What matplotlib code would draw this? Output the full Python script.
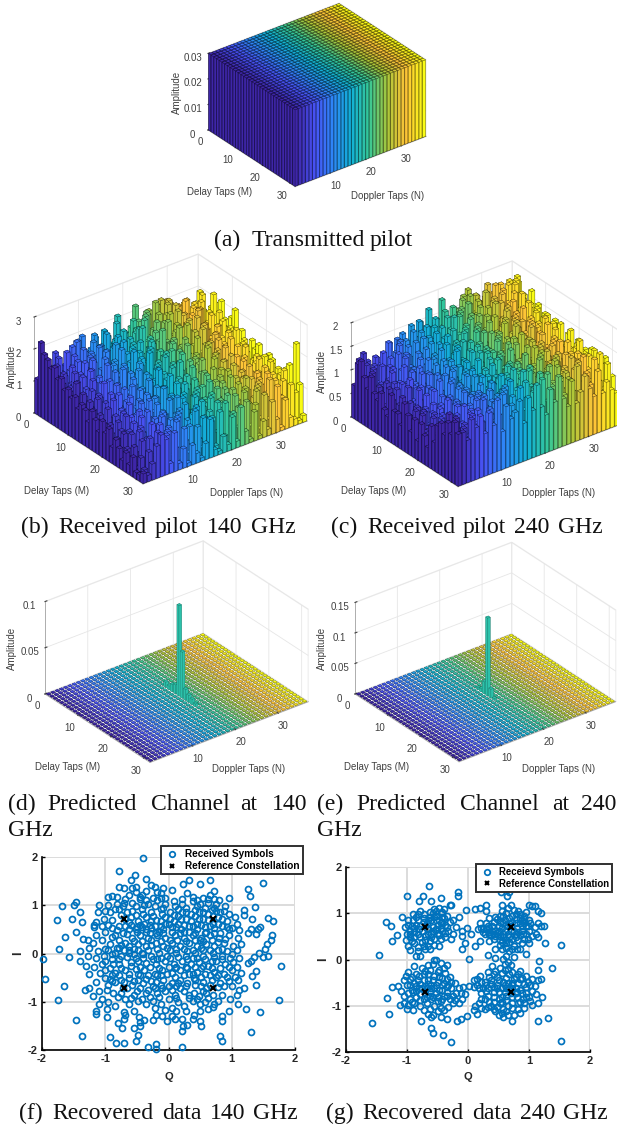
import numpy as np
import matplotlib
matplotlib.use('Agg')
import matplotlib.pyplot as plt
from matplotlib.colors import LinearSegmentedColormap
from mpl_toolkits.mplot3d import proj3d

W, H = 617, 1127
N_M, N_N = 32, 37
plt.rcParams['axes.unicode_minus'] = False

# parula anchors
parula = LinearSegmentedColormap.from_list('parula', [
    (0.2422, 0.1504, 0.6603), (0.2810, 0.3228, 0.9579), (0.1786, 0.5289, 0.9682),
    (0.0689, 0.6948, 0.8394), (0.2161, 0.7843, 0.5923), (0.6720, 0.7793, 0.2227),
    (0.9970, 0.7659, 0.2199), (0.9769, 0.9839, 0.0805)])

# transmitted pilot, same level everywhere
pilot_level = 0.03

# received pilot 140 GHz, tenths of amplitude, rows are delay, columns doppler
rx_140 = [
 [11,16,7,13,17,8,12,6,15,18, 19,9,14,17,7,18,10,13,21,8, 12,16,22,9,12,19,7,16,11,20, 17,8,13,17,6,13,9],
 [23,8,12,6,16,11,5,18,19,7, 15,10,19,6,13,17,8,20,11,16, 7,14,18,10,19,6,21,22,12,20, 9,18,7,16,15,8,17],
 [20,15,6,10,5,18,13,7,4,16, 8,18,5,14,19,9,16,6,17,12, 20,8,13,21,10,23,15,7,22,11, 19,6,20,12,18,21,14],
 [19,5,16,8,3,13,17,9,18,6, 15,4,17,10,7,15,5,19,12,6, 18,9,21,14,7,20,13,22,8,17, 5,21,11,19,7,16,10],
 [17,14,4,13,9,2,16,5,12,17, 7,18,10,3,16,19,8,14,5,18, 11,21,6,17,9,13,20,7,22,12, 18,8,19,6,22,13,17],
 [18,6,15,3,16,8,4,14,17,5, 19,7,13,11,4,17,9,18,6,20, 8,15,10,20,16,6,21,12,5,19, 9,18,15,21,7,14,19],
 [15,13,3,12,2,14,17,6,16,9, 4,18,11,19,7,15,3,17,10,21, 14,6,18,9,20,7,15,22,11,17, 14,6,20,10,18,23,8],
 [16,4,12,16,7,3,13,18,5,14, 19,6,15,8,20,10,17,5,14,4, 18,9,16,6,21,12,19,8,17,15, 7,21,13,16,5,17,21],
 [13,12,2,9,15,6,16,3,11,18, 8,15,4,12,17,7,5,19,10,16, 6,13,20,16,8,18,12,5,20,11, 22,7,15,19,13,4,16],
 [14,5,15,3,12,17,7,14,4,16, 6,13,20,9,15,3,17,12,5,18, 15,11,4,16,13,20,8,18,14,21, 6,16,13,9,20,15,7],
 [12,16,3,8,2,14,5,11,18,6, 13,4,15,10,19,12,6,14,20,8, 16,11,14,18,7,15,21,9,16,6, 19,13,6,17,18,8,18],
 [13,2,12,7,16,3,14,8,3,16, 10,17,5,13,4,17,9,19,12,6, 15,8,18,11,16,10,14,19,7,20, 13,9,18,14,5,16,21],
 [10,14,3,14,5,11,2,15,12,4, 17,9,13,6,16,10,19,3,15,12, 7,17,5,14,19,8,16,11,20,13, 6,17,12,7,16,14,13],
 [12,3,10,2,12,16,5,3,14,7, 11,16,4,18,6,13,9,15,8,18, 5,12,17,8,15,4,19,14,7,16, 18,8,14,17,11,4,16],
 [11,13,2,14,5,3,12,15,4,11, 3,13,17,6,13,4,15,6,18,12, 14,5,12,19,8,15,9,17,12,5, 17,14,6,12,18,8,12],
 [8,11,14,3,10,14,2,9,14,3, 16,7,12,16,4,13,7,14,4,16, 10,18,9,6,15,12,4,18,9,15, 10,6,17,13,9,15,10],
 [12,2,8,13,3,8,14,3,10,15, 5,12,3,14,10,17,4,11,16,6, 14,4,16,9,14,6,18,10,15,4, 16,13,9,6,15,6,15],
 [10,11,1,9,14,2,10,12,3,9, 14,6,16,7,3,12,14,6,11,18, 4,11,14,7,16,10,6,16,7,13, 10,4,16,11,13,9,13],
 [7,9,13,2,4,11,3,14,6,12, 3,12,8,14,5,8,16,3,14,7, 11,16,4,13,7,11,16,4,14,10, 7,14,8,16,5,11,15],
 [11,1,6,11,8,2,13,7,2,10, 14,3,12,6,14,9,3,12,8,15, 5,12,9,14,3,14,8,12,5,16, 12,7,14,5,12,8,11],
 [8,10,2,5,12,7,2,10,13,3, 6,13,6,15,3,9,15,5,12,2, 14,8,5,12,9,4,14,8,12,9, 5,14,11,3,14,11,8],
 [10,3,11,1,5,11,8,2,8,14, 10,3,9,5,13,6,9,15,4,10, 2,12,15,4,12,13,5,9,15,4, 12,9,5,13,8,14,14],
 [5,7,9,13,2,4,13,3,10,2, 13,6,2,13,9,3,13,6,2,13, 9,4,13,9,2,9,15,5,9,13, 5,12,8,15,4,9,13],
 [8,1,3,9,11,2,7,13,2,6, 3,10,14,2,7,13,5,2,13,6, 10,15,2,9,13,5,9,13,4,12, 15,5,12,5,9,13,6],
 [6,10,1,5,2,13,5,1,11,4, 11,2,7,15,3,10,3,13,5,10, 2,6,13,5,10,15,2,9,13,4, 10,13,2,13,15,5,9],
 [3,6,10,2,11,5,1,9,4,13, 2,6,11,3,13,6,10,2,10,5, 13,3,10,13,5,2,13,5,10,13, 4,10,15,5,10,13,3],
 [6,1,5,11,3,1,11,4,13,2, 11,3,13,6,1,10,3,13,3,13, 5,10,2,6,13,9,4,15,5,2, 13,5,10,13,4,9,13],
 [3,8,2,4,9,13,2,6,2,6, 4,13,2,10,5,13,6,2,10,2, 10,5,13,2,9,4,13,2,9,13, 5,15,5,9,13,2,15],
 [6,2,10,5,1,7,13,2,11,3, 13,2,6,3,13,2,10,4,1,13, 2,9,5,13,2,13,9,4,13,5, 10,2,13,4,15,9,9],
 [2,6,1,11,5,2,4,11,3,13, 1,6,10,1,5,11,1,10,5,2, 13,5,2,10,4,10,2,13,4,10, 15,4,9,13,2,4,23],
 [2,3,8,2,13,6,11,2,6,1, 11,3,1,10,3,1,10,2,12,4, 1,10,5,2,12,4,10,2,12,4, 2,13,9,2,12,9,11],
 [3,2,5,10,13,11,3,12,2,6, 1,6,3,1,5,12,2,1,5,2, 10,2,12,4,1,9,1,5,2,10, 4,1,9,3,2,1,2],
]

# received pilot 240 GHz, tenths of amplitude
rx_240 = [
 [7,12,13,11,8,11,9,7,13,8, 12,14,8,15,9,15,11,17,14,10, 18,12,10,15,12,17,18,11,16,13, 15,11,14,12,15,10,12],
 [12,7,11,6,12,10,7,14,9,14, 8,13,10,13,16,8,14,11,15,13, 16,10,15,12,17,14,9,17,15,12, 14,16,11,15,13,17,12],
 [13,9,5,11,7,13,9,6,12,14, 8,10,15,8,13,15,9,16,12,8, 14,17,10,16,12,18,14,16,11,19, 13,16,18,12,18,14,17],
 [10,5,11,7,11,5,12,8,14,6, 13,8,11,15,10,7,15,12,9,16, 11,14,16,10,17,12,17,14,18,12, 19,15,12,18,14,19,15],
 [8,11,5,8,6,11,7,13,7,12, 9,14,8,10,14,13,7,15,12,14, 9,16,11,18,13,15,12,19,11,17, 13,18,15,12,19,14,13],
 [11,6,8,4,9,11,5,10,13,10, 6,12,15,8,11,15,10,13,9,17, 13,11,14,16,9,17,14,12,17,13, 18,14,11,19,14,16,11],
 [8,9,4,7,11,6,8,13,7,10, 13,9,11,14,8,11,14,9,15,12, 9,15,16,10,16,12,17,14,11,17, 13,12,18,14,16,12,17],
 [7,5,10,7,4,9,12,8,10,7, 11,14,6,12,14,9,15,10,13,9, 15,12,8,15,11,16,10,18,14,11, 14,17,11,18,12,15,10],
 [9,6,4,10,7,4,9,11,8,13, 7,10,12,9,11,14,8,13,10,15, 12,9,15,11,14,10,16,12,15,17, 11,15,14,11,15,10,15],
 [6,10,7,4,10,7,6,9,12,7, 13,6,10,14,9,11,12,8,14,10, 12,15,9,12,16,13,10,14,17,11, 15,10,12,17,10,15,9],
 [5,8,10,6,4,11,9,6,9,11, 10,12,6,10,12,8,14,11,7,14, 9,13,15,11,9,14,13,16,10,15, 12,17,10,13,15,9,14],
 [10,5,7,5,10,7,4,12,6,11, 7,10,13,6,10,14,8,11,13,10, 12,9,12,15,11,12,16,10,13,14, 15,10,15,11,13,14,11],
 [7,8,4,11,7,4,10,6,12,5, 11,8,10,13,9,11,12,8,10,14, 7,13,12,9,15,11,13,14,16,10, 13,15,9,14,11,15,9],
 [7,10,5,7,4,8,6,10,8,12, 7,13,6,10,12,8,9,14,8,11, 13,10,9,15,9,14,12,16,10,13, 11,14,14,10,14,9,14],
 [5,5,9,4,11,5,7,10,6,9, 12,7,13,9,9,13,8,11,14,7, 11,13,15,9,12,12,14,11,14,11, 16,11,10,16,9,14,11],
 [10,7,4,8,4,10,5,7,12,8, 7,13,6,10,12,6,12,9,11,14, 10,8,13,12,9,15,9,14,12,16, 11,14,11,9,15,12,8],
 [8,5,9,3,8,5,11,7,9,6, 12,7,10,12,7,10,14,8,11,11, 8,13,10,15,12,11,16,9,14,12, 11,9,16,12,9,15,10],
 [5,9,3,8,5,9,5,10,7,12, 6,11,8,10,13,9,7,12,14,8, 13,11,8,13,15,9,12,15,11,9, 15,12,9,15,11,8,13],
 [8,4,9,5,8,3,9,6,10,8, 11,6,13,8,10,12,9,9,12,14, 8,11,15,10,12,12,9,15,10,14, 9,12,14,10,12,12,7],
 [4,9,6,3,6,9,5,10,7,9, 8,11,7,13,7,10,12,14,9,11, 10,13,8,12,11,15,12,9,14,10, 12,14,9,12,8,15,10],
 [8,6,3,9,4,6,11,7,10,6, 11,8,10,7,13,10,9,12,11,8, 13,9,13,10,12,10,15,12,9,12, 14,8,13,10,12,8,13],
 [6,3,9,4,9,6,5,10,7,12, 6,11,8,10,9,12,7,12,9,14, 11,8,10,15,10,12,9,12,14,10, 10,15,9,12,10,13,8],
 [4,6,6,9,3,9,8,5,10,9, 11,7,13,10,7,12,9,9,13,8, 10,13,8,10,12,10,15,9,12,12, 12,9,15,8,13,10,12],
 [9,4,6,6,9,5,11,7,7,12, 8,12,10,7,13,9,14,11,8,11, 13,8,10,12,10,15,9,12,10,14, 8,12,13,9,15,12,7],
 [6,9,3,9,6,10,5,10,11,6, 13,7,10,14,9,11,8,11,15,8, 10,13,10,8,15,9,12,10,13,10, 14,10,8,13,11,8,13],
 [10,5,8,5,10,7,12,6,8,13, 9,10,13,9,11,8,14,9,10,13, 8,15,10,12,9,13,8,15,10,12, 10,13,14,8,12,10,10],
 [11,9,6,11,6,9,7,10,13,7, 11,14,8,10,13,11,8,12,10,8, 15,10,8,13,13,9,15,8,12,10, 14,8,13,10,12,14,9],
 [9,13,8,6,10,8,12,9,7,14, 9,11,13,10,8,15,10,8,16,10, 12,8,13,10,15,10,8,12,10,15, 10,12,10,14,8,12,7],
 [12,8,10,7,8,12,9,7,14,9, 13,8,10,15,10,11,8,13,10,13, 10,15,10,8,12,15,10,13,8,13, 10,15,12,8,10,12,13],
 [10,13,8,11,9,9,13,10,8,11, 13,10,15,8,13,10,12,15,8,13, 10,8,15,12,10,13,8,12,10,15, 8,12,10,13,15,8,9],
 [13,10,11,9,13,11,11,8,13,10, 11,15,10,12,8,15,10,10,13,8, 15,10,12,8,13,10,13,10,15,8, 12,10,15,10,8,13,10],
 [11,11,9,13,11,13,9,13,10,15, 8,13,10,11,13,8,13,10,15,10, 8,13,10,15,10,8,13,8,10,13, 10,8,13,8,10,8,7],
]

# predicted channel, low floor and the spike along one doppler column
floor_140 = 0.0006
spike_n_140 = 20
spike_m_140 = [12, 13, 14, 15, 16, 17, 18, 19, 20, 21]
spike_a_140 = [0.006, 0.004, 0.008, 0.010, 0.098, 0.050, 0.012, 0.008, 0.006, 0.003]

floor_240 = 0.0009
spike_n_240 = 20
spike_m_240 = [13, 14, 15, 16, 17, 18]
spike_a_240 = [0.003, 0.005, 0.020, 0.128, 0.015, 0.003]

z_ticks = {
    'a': ([0, 0.01, 0.02, 0.03], ['0', '0.01', '0.02', '0.03']),
    'b': ([0, 1, 2, 3], ['0', '1', '2', '3']),
    'c': ([0, 0.5, 1, 1.5, 2], ['0', '0.5', '1', '1.5', '2']),
    'd': ([0, 0.05, 0.1], ['0', '0.05', '0.1']),
    'e': ([0, 0.05, 0.1, 0.15], ['0', '0.05', '0.1', '0.15']),
}

# reference QPSK points
ref_q = [-0.71, -0.71, 0.71, 0.71]
ref_i = [-0.71, 0.71, -0.71, 0.71]

# received symbols 140 GHz (Q, I)
symbols_140 = [
 (-.40,1.97),(-.78,1.70),(-.53,1.62),(-.59,1.52),(-.36,1.55),(1.49,1.47),(.66,1.52),(.33,1.52),(.5,1.45),(.23,1.45),
 (1.26,1.34),(1.29,1.19),(.96,1.14),(1.37,.97),(1.2,.9),(1.2,.79),(1.32,.71),(1.57,.74),(1.66,.68),(-1.69,.99),
 (-1.47,1.06),(-1.49,1.0),(-1.4,.86),(-1.53,.72),(-1.77,.7),(-1.37,.65),(-1.63,.34),(-1.46,.45),(-1.35,.31),(-1.73,.09),
 (-1.57,-.08),(-1.98,-.12),(-1.95,-.52),(-1.66,-.68),(-1.75,-.97),(-1.46,-1.38),(-1.37,-1.72),(-.93,-1.74),(-.83,-1.86),(-.7,-1.85),
 (-.51,-1.81),(-.49,-1.69),(-.32,-1.94),(-.2,-1.88),(-.2,-1.98),(.21,-1.94),(.82,-1.7),(.85,-1.81),(1.31,-1.62),(1.44,-1.21),
 (1.22,-1.16),(1.74,-.97),(1.78,-.26),(1.64,.39),(1.62,.28),(1.52,.1),(1.55,.2),(1.43,.02),(1.58,-.05),(1.5,-.08),
 (1.35,-.07),(1.3,-.15),(1.26,-.2),(1.38,-.37),(1.32,-.47),(1.38,-.65),(1.15,-.4),(1.1,-.55),(1.12,-.75),(1.2,-.72),
 (1.08,-.85),(.98,-.95),(1.1,-1.05),(.95,-1.2),(.84,-1.3),(.84,-1.4),(.7,-1.1),(.5,-1.2),(.5,-1.4),(.52,-1.5),
 (.38,-1.35),(.4,-1.28),(.22,-1.35),(.23,-1.5),(.22,-1.6),(.3,-1.48),(.1,-1.35),(.05,-1.3),(-.02,-1.4),(-.1,-1.3),
 (-.2,-1.28),(-.25,-1.38),(-.38,-1.38),(-.45,-1.42),(-.45,-1.5),(-.47,-1.32),(-.55,-1.2),(-.55,-1.55),(-.7,-1.22),(-.7,-1.35),
 (-.73,-1.55),(-.8,-1.45),(-.68,-1.28),(-.85,-1.08),(-.95,-1.0),(-.97,-1.15),(-.97,-1.32),(-1.1,-1.05),(-1.15,-1.2),(-1.15,-1.25),
 (-1.05,-.95),(-1.1,-.78),(-1.2,-.88),(-1.25,-.72),(-1.32,-.75),(-1.15,-.6),(-1.0,-.5),(-.95,-.65),(-.9,-.45),(-.85,-.6),
 (-.8,-.9),(-.68,-.95),(-.62,-1.05),(-.55,-.85),(-.42,-.95),(-.35,-1.05),(-.25,-.98),(-.12,-1.05),(.05,-1.12),(.15,-1.0),
 (.25,-1.08),(.38,-.98),(.5,-1.05),(.62,-.92),(.78,-.98),(.7,-.85),(.55,-.78),(.4,-.82),(.25,-.78),(.1,-.85),
 (-.05,-.78),(-.18,-.82),(-.32,-.75),(-.45,-.72),(-.58,-.65),(-.72,-.72),(-.62,-.5),(-.48,-.55),(-.35,-.52),(-.2,-.6),
 (-.08,-.55),(.05,-.62),(.18,-.55),(.3,-.62),(.42,-.55),(.55,-.6),(.68,-.55),(.82,-.62),(.95,-.58),(.88,-.42),
 (.72,-.38),(.58,-.42),(.45,-.38),(.32,-.42),(.18,-.35),(.05,-.4),(-.1,-.35),(-.22,-.42),(-.38,-.35),(-.52,-.32),
 (-.68,-.35),(-.78,-.22),(-.92,-.3),(-1.05,-.22),(-1.18,-.28),(-1.25,-.42),(-1.3,-.25),(-1.4,-.15),(-1.28,-.05),(-1.15,-.1),
 (-1.02,-.05),(-.9,-.12),(-.75,-.05),(-.6,-.18),(-.48,-.15),(-.35,-.2),(-.2,-.22),(-.05,-.15),(.08,-.22),(.22,-.15),
 (.35,-.22),(.48,-.18),(.62,-.25),(.75,-.15),(.9,-.22),(1.02,-.18),(1.12,-.1),(1.0,-.02),(.85,-.05),(.7,.02),
 (.55,-.05),(.42,.02),(.28,-.05),(.12,.02),(-.02,-.05),(-.15,.02),(-.28,-.05),(-.42,.02),(-.55,-.02),(-.7,.08),
 (-.85,.02),(-1.0,.1),(-1.12,.05),(-1.25,.12),(-1.4,.05),(-1.2,.22),(-1.05,.28),(-.92,.2),(-.78,.28),(-.62,.15),
 (-.48,.2),(-.35,.15),(-.2,.22),(-.08,.15),(.05,.22),(.18,.15),(.32,.22),(.45,.15),(.6,.2),(.72,.15),
 (.88,.22),(1.02,.15),(1.15,.2),(1.1,.32),(.95,.38),(.8,.32),(.65,.38),(.52,.32),(.38,.38),(.25,.32),
 (.1,.38),(-.05,.32),(-.18,.38),(-.32,.32),(-.45,.38),(-.58,.32),(-.72,.42),(-.85,.38),(-1.0,.45),(-1.15,.38),
 (-1.28,.28),(-1.18,.55),(-1.05,.58),(-.9,.52),(-.78,.58),(-.62,.5),(-.5,.55),(-.35,.5),(-.22,.58),(-.08,.5),
 (.05,.55),(.2,.5),(.32,.58),(.45,.5),(.58,.55),(.72,.52),(.85,.58),(1.0,.52),(1.12,.48),(1.25,.42),
 (1.3,.5),(1.38,.4),(1.42,.5),(1.45,.55),(1.08,.62),(.92,.68),(.78,.75),(.62,.7),(.48,.72),(.35,.68),
 (.2,.72),(.08,.68),(-.05,.75),(-.2,.7),(-.35,.75),(-.48,.68),(-.6,.75),(-.75,.8),(-.9,.7),(-1.02,.72),
 (-1.15,.65),(-1.18,.6),(-1.12,.85),(-1.0,.88),(-.85,.92),(-.72,.98),(-.58,.88),(-.42,.92),(-.28,.85),(-.12,.92),
 (.02,.85),(.15,.92),(.28,.85),(.42,.9),(.55,.85),(.68,.9),(.82,.85),(.95,.82),(1.05,.75),(.9,.98),
 (.75,1.02),(.62,1.12),(.5,1.02),(.38,1.08),(.22,1.02),(.08,1.08),(-.05,1.02),(-.18,1.1),(-.32,1.02),(-.45,1.12),
 (-.58,1.05),(-.68,1.12),(-.82,1.02),(-.95,1.0),(-1.1,1.0),(-.95,1.18),(-.9,1.2),(-.82,1.18),(-.62,1.22),(-.52,1.28),
 (-.42,1.22),(-.35,1.3),(-.22,1.38),(-.18,1.28),(-.08,1.35),(.05,1.32),(.3,1.25),(.38,1.18),(.55,1.15),(.65,1.22),
 (.72,1.3),(.8,1.1),(.62,1.05),(-.05,1.15),(-.12,1.25),(-.28,1.42),(-.7,1.35),(-.58,1.35),(-.52,1.38),(-.78,1.38),
 (-.3,.6),(.3,.05),(.6,.45),(-.6,.6),(.1,-.3),(-.4,-.1),(.4,-.5),(-.15,.45),(.85,.1),(-.85,-.4),
 (.15,.62),(-.28,.18),(.52,-.3),(-.5,.45),(.68,-.15),(-.12,-.45),(.25,.45),(-.7,-.6),(.95,.5),(-1.0,-.35),
 (.38,-.1),(-.25,-.68),(.55,.08),(-.62,.02),(.75,-.48),(.02,.08),(-.38,.62),(.45,.62),(-.05,.62),(.6,-.72),
 (-.9,.35),(1.0,-.35),(-.18,-.12),(.3,-.3),(-.45,-.45),(.12,-.68),(.82,.42),(-.78,.12),(.5,.28),(-.3,.42),
 # dense middle
 (-.42,.26),(-.27,.28),(-.12,.25),(.02,.28),(.14,.27),(.28,.25),(.42,.28),(.55,.26),(.68,.28),(.78,.24),
 (-.55,.25),(-.68,.22),(-.82,.12),(-.95,.08),(-.62,.08),(-.48,.08),(-.32,.08),(-.18,.1),(-.02,.12),(.12,.1),
 (.25,.1),(.38,.08),(.52,.12),(.65,.08),(.78,.08),(.92,.05),(1.08,.08),(-.75,.18),(-.55,.1),(-.4,-.02),
 (-.25,-.12),(-.12,-.1),(.02,-.1),(.15,-.08),(.3,-.12),(.45,-.1),(.58,-.12),(.72,-.08),(.85,-.12),(.98,-.1),
 (-.65,-.08),(-.52,-.1),(-.78,-.12),(-.9,-.02),(-.6,-.25),(-.45,-.28),(-.3,-.28),(-.15,-.3),(.0,-.28),(.12,-.28),
 (.28,-.28),(.42,-.28),(.55,-.25),(.68,-.3),(.82,-.3),(.95,-.28),(1.08,-.28),(-.75,-.3),(-.88,-.22),(-1.0,-.15),
 (-.62,-.42),(-.48,-.42),(-.32,-.45),(-.18,-.45),(-.02,-.42),(.1,-.48),(.25,-.45),(.38,-.42),(.52,-.48),(.65,-.45),
 (.78,-.45),(.92,-.48),(1.05,-.48),(-.78,-.45),(-.92,-.52),(-1.08,-.4),(-.75,-.55),(-.55,-.58),(-.4,-.62),(-.28,-.58),
 (-.12,-.65),(.0,-.68),(.15,-.62),(.28,-.68),(.42,-.65),(.52,-.68),(.65,-.65),(.78,-.7),(.88,-.68),(1.0,-.68),
 (-.65,-.72),(-.5,-.78),(-.35,-.82),(-.22,-.72),(-.1,-.72),(.05,-.75),(.18,-.72),(.32,-.85),(.48,-.88),(.6,-.82),
 (-.9,-.58),(-.98,-.75),(-.88,-.82),(-.75,-.82),(-.6,-.92),(-.48,-.98),(-.15,-.9),(.0,-.95),(.12,-.92),(.32,-.92),
 (.45,-.95),(.58,-1.0),(.72,-1.05),(.85,-.85),(-.3,-.9),(-.22,-1.12),(-.05,-1.18),(.12,-1.2),(.28,-1.2),(.62,-1.15),
 (-.35,.45),(-.2,.42),(-.08,.42),(.05,.45),(.18,.42),(.32,.45),(.42,.42),(.58,.42),(.72,.42),(.9,.3),
 (-.65,.4),(-.52,.5),(-.68,.58),(-.42,.55),(-.28,.52),(-.12,.58),(.0,.62),(.12,.55),(.25,.6),(.38,.58),
 (.52,.6),(.65,.58),(.78,.62),(.92,.55),(.7,.62),(-.82,.48),(-.95,.6),(-.62,.65),(-.45,.6),(-.28,.68),
 (-.12,.68),(.02,.72),(.15,.78),(.28,.72),(.42,.78),(.55,.72),(.7,.78),(.85,.72),(-.68,.72),(-.52,.8),
 (-.4,.82),(-.25,.78),(-.1,.82),(.08,.8),(.22,.85),(.35,.82),(.48,.85),(.62,.82),(.75,.88),(.88,.88),
 (-.65,.85),(-.78,.92),(-.92,.85),(-.52,.98),(-.38,1.0),(-.22,.98),(-.08,.95),(.1,.98),(.28,.95),(.45,.98),
 (.58,.95),(.72,.95),(-.7,1.05),(-.45,1.18),(-.25,1.15),(.22,1.12),(.45,1.1),(.72,1.12),(-.35,1.1),(-.12,1.15),
]

# received symbols 240 GHz (Q, I)
symbols_240 = [
 (-.64,1.58),(-1.0,1.37),(-.73,1.37),(-.8,1.27),(-.6,1.26),(-.45,1.33),(-.16,1.45),(-.16,1.37),(-1.35,.81),(-1.27,.72),
 (-1.17,.54),(-1.24,.39),(-1.46,.09),(-1.58,-1.37),(-1.33,-.83),(-1.29,-1.17),(-1.24,-.6),(-.77,-1.34),(-.61,-1.49),(-.57,-1.59),
 (-.41,-1.63),(-.28,-1.78),(1.52,-1.76),(1.15,-1.34),(1.31,-1.26),(1.38,-.19),(1.52,.31),(1.16,-.04),(1.14,-.22),(1.27,.35),
 (.54,1.47),(.64,1.38),(.67,1.47),(.55,1.18),(.7,1.18),(.3,1.18),(.2,1.12),(.12,1.1),(-.03,1.07),(.2,.8),
 (.3,1.05),(.35,.9),(-.15,.92),(-.3,1.18),(-.28,1.17),(-.4,1.1),(-.42,.92),(-.25,.85),(-.1,.62),(-.02,.68),
 (.05,.55),(-.1,.5),(-.05,.35),(-.1,.22),(.12,.3),(.2,.4),(.02,.02),(.32,.1),(.17,.65),(.25,.65),
 (1.0,1.17),(1.05,1.16),(1.1,1.16),(1.15,1.05),(1.2,1.0),(1.2,.72),(1.25,.72),(1.15,.8),(1.1,.7),(1.12,.55),
 (1.15,.48),(1.05,.5),(1.0,.35),(.95,.12),(.85,.22),(.75,.05),(.62,.08),(.55,.22),(.45,.03),(.45,.22),
 # upper left cluster
 (-.71,.72),(-.6,.85),(-.5,.75),(-.52,.95),(-.42,.82),(-.85,.75),(-.95,.62),(-.98,.75),(-1.03,.7),(-1.08,.92),
 (-.9,.98),(-.78,1.05),(-.85,.92),(-.72,.9),(-.62,1.02),(-.55,1.1),(-.48,1.12),(-.45,1.0),(-.52,.65),(-.42,.62),
 (-.35,.7),(-.3,.82),(-.25,.55),(-.2,.7),(-.28,.45),(-.38,.48),(-.48,.52),(-.6,.55),(-.7,.5),(-.82,.55),
 (-.95,.48),(-1.02,.42),(-.98,.3),(-.88,.35),(-.75,.38),(-.62,.4),(-.55,.32),(-.48,.3),(-.7,.22),(-.82,.18),
 (-.95,.2),(-.85,.08),(-.78,.08),(-.65,.65),(-.8,.65),(-.9,.85),(-.68,.78),(-.58,.7),(-.45,.68),(-.62,.92),
 (-.75,.62),(-.88,.6),(-1.0,.55),(-.55,.45),(-.65,.3),(-.4,.9),(-.35,.95),(-.72,.98),(-.58,1.0),(-.48,.85),
 (-.78,.72),(-.72,.82),(-.82,.85),(-.65,.55),(-.58,.62),(-.5,.58),(-.45,.45),(-.38,.58),(-.32,.62),(-.52,.85),
 (-.45,.78),(-.38,.75),(-.55,.92),(-.68,.68),(-.92,.72),(-.95,.55),(-.88,.48),(-.78,.48),(-.7,.42),(-.6,.48),
 (-.92,.4),(-.82,.28),(-.72,.3),(-.62,.22),(-.88,.68),(-.98,.85),(-.82,.98),(-.65,.85),(-.52,1.05),(-.42,1.02),
 # upper right cluster
 (.71,.72),(.6,.85),(.5,.72),(.45,.62),(.35,.6),(.28,.55),(.22,.68),(.3,.78),(.42,.82),(.52,.95),
 (.62,1.0),(.72,.95),(.85,.9),(.82,1.05),(.95,1.02),(.92,.88),(1.0,.85),(.85,.78),(.95,.72),(1.0,.62),
 (.88,.62),(.78,.55),(.65,.55),(.52,.5),(.42,.45),(.35,.4),(.55,.38),(.68,.38),(.82,.42),(.92,.45),
 (.75,.3),(.62,.25),(.52,.32),(.8,.22),(.68,.18),(.6,.62),(.7,.62),(.8,.68),(.62,.75),(.52,.82),
 (.4,.72),(.35,.68),(.45,.92),(.72,.82),(.88,.72),(.75,1.08),(.65,1.12),(.58,.95),(.95,.55),(.48,.58),
 (.58,.48),(.72,.45),(.85,.52),(.55,.68),(.65,.72),(.78,.78),(.92,.8),(.38,.52),(.3,.65),(.68,.9),
 (.42,.55),(.5,.62),(.58,.55),(.68,.48),(.75,.62),(.82,.6),(.9,.55),(.98,.72),(1.02,.78),(.88,.85),
 (.78,.88),(.68,.8),(.58,.78),(.48,.88),(.4,.62),(.32,.72),(.25,.6),(.62,.42),(.52,.42),(.78,.48),
 (.88,.35),(.98,.45),(.72,.22),(.62,.35),(.45,.5),(.35,.55),(.92,.95),(.78,.98),(.55,1.05),(.85,.98),
 # lower left cluster
 (-.71,-.72),(-.6,-.55),(-.5,-.48),(-.42,-.65),(-.32,-.55),(-.22,-.5),(-.15,-.62),(-.08,-.6),(.02,-.58),(.1,-.6),
 (.15,-.55),(-.85,-.58),(-.92,-.65),(-1.0,-.55),(-.95,-.42),(-1.02,-.35),(-.98,-.28),(-.85,-.32),(-.82,-.45),(-.72,-.45),
 (-.65,-.32),(-.55,-.35),(-.48,-.22),(-.38,-.3),(-.3,-.38),(-.75,-.18),(-.88,-.15),(-.65,-.12),(-.55,-.02),(-.52,0),
 (-.6,-.85),(-.5,-.9),(-.4,-.78),(-.3,-.85),(-.25,-.95),(-.32,-1.02),(-.45,-1.05),(-.55,-1.0),(-.68,-.95),(-.78,-.88),
 (-.85,-.82),(-.95,-.85),(-1.05,-.78),(-1.1,-.68),(-1.15,-.58),(-1.05,-.95),(-1.12,-.98),(-1.0,-1.07),(-.9,-1.1),(-.72,-1.1),
 (-.65,-1.18),(-.6,-1.25),(-.58,-1.2),(-.45,-1.25),(-.35,-1.28),(-.18,-1.32),(-.12,-1.28),(-.02,-1.22),(-.1,-.85),(-.05,-.75),
 (-.15,-.95),(-.2,-.72),(-.9,-.7),(-.8,-.62),(-.62,-.68),(-.52,-.72),(-.4,-.5),(-.58,-.8),(-.7,-.58),(-.78,-.75),
 (-.98,-.98),(-.68,-.82),(-.35,-.7),(-.28,-.62),(-.45,-.9),(-.88,-.95),(-.65,-.45),(-.55,-.62),(-.42,-.4),(-.72,-.32),
 (-.75,-.62),(-.68,-.62),(-.6,-.62),(-.48,-.65),(-.42,-.55),(-.35,-.6),(-.28,-.48),(-.52,-.55),(-.58,-.45),(-.48,-.38),
 (-.35,-.42),(-.62,-.22),(-.7,-.25),(-.8,-.35),(-.92,-.38),(-.88,-.5),(-.78,-.52),(-.95,-.55),(-1.05,-.45),(-.72,-.85),
 (-.62,-.78),(-.5,-.82),(-.42,-.85),(-.35,-.78),(-.85,-.68),(-.98,-.72),(-.92,-.92),(-.78,-1.0),(-.62,-1.08),(-.5,-1.12),
 (-.4,-1.1),(-.25,-.78),(-.22,-.88),(-.12,-.72),(-.65,-.52),(-.5,-.28),(-.4,-.18),(-.58,-.1),(-.45,-.08),(-.35,-.12),
 # lower right cluster
 (.71,-.72),(.6,-.55),(.5,-.45),(.42,-.6),(.3,-.55),(.22,-.48),(.15,-.42),(.1,-.45),(.2,-.35),(.32,-.28),
 (.42,-.32),(.55,-.3),(.65,-.2),(.72,-.28),(.85,-.25),(.95,-.35),(1.05,-.42),(1.15,-.45),(1.2,-.42),(1.02,-.55),
 (.92,-.52),(.82,-.5),(.72,-.5),(.85,-.65),(.95,-.72),(1.05,-.68),(1.12,-.75),(1.22,-.8),(1.15,-.95),(1.02,-.9),
 (.92,-1.05),(.82,-1.08),(.72,-.95),(.62,-.88),(.52,-.95),(.42,-.82),(.32,-.78),(.22,-.72),(.18,-.95),(.12,-1.0),
 (.1,-1.1),(.15,-1.18),(.28,-1.08),(.38,-1.0),(.45,-1.12),(.5,-1.2),(.58,-1.25),(.65,-1.2),(.72,-1.32),(.75,-1.2),
 (.85,-1.15),(.5,-.7),(.6,-.7),(.8,-.82),(.9,-.85),(.62,-.4),(.48,-.55),(.38,-.45),(.3,-.68),(.68,-.62),
 (.78,-.62),(.55,-.82),(.65,-1.0),(.42,-.7),(.72,-.82),(1.0,-.8),(.95,-.6),(.85,-.92),(.35,-.92),(.28,-.85),
 (.58,-1.08),(.48,-1.02),(.88,-.4),(.78,-.38),(.7,-.12),(.6,-.1),(.52,-.18),(.4,-.15),(.58,.02),(.65,-.05),
 (.55,-.62),(.62,-.62),(.72,-.62),(.8,-.7),(.88,-.72),(.95,-.82),(.72,-.55),(.58,-.48),(.48,-.62),(.38,-.52),
 (.28,-.48),(.18,-.62),(.25,-.62),(.35,-.38),(.45,-.25),(.6,-.22),(.75,-.42),(.85,-.42),(.98,-.48),(1.1,-.58),
 (.62,-.78),(.5,-.85),(.42,-.92),(.32,-.62),(.22,-.85),(.55,-.92),(.72,-1.05),(.82,-.95),(.92,-.95),(1.05,-.98),
 (.62,-1.12),(.42,-1.08),(.32,-1.02),(.22,-1.05),(.55,-1.15),(.78,-.72),(.65,-.5),(.48,-.38),(.68,-.32),(.82,-.32),
]

captions = [
 (['(a)', 'Transmitted', 'pilot'], [214, 252, 370], 246),
 (['(b)', 'Received', 'pilot', '140', 'GHz'], [21, 58, 155, 207, 251], 533),
 (['(c)', 'Received', 'pilot', '240', 'GHz'], [331, 367, 463, 514, 558], 533),
 (['(d)', 'Predicted', 'Channel', 'at', '140'], [8, 47, 151, 240, 272], 810),
 (['GHz'], [8], 836),
 (['(e)', 'Predicted', 'Channel', 'at', '240'], [317, 356, 460, 552, 581], 810),
 (['GHz'], [317], 836),
 (['(f)', 'Recovered', 'data', '140', 'GHz'], [19, 52, 162, 210, 253], 1119),
 (['(g)', 'Recovered', 'data', '240', 'GHz'], [326, 362, 472, 520, 563], 1119),
]


def px_x(x):
    return x / W


def px_y(y):
    return 1 - y / H


def corner_px(ax, n, m, z=0):
    # where a data point lands on the figure, in pixels from the top left
    x2, y2, _ = proj3d.proj_transform(n, m, z, ax.get_proj())
    p = ax.transData.transform((x2, y2))
    return p[0], H - p[1]


def bars3d(pos, heights, zmax, zkey, labels, edge=0.65, width=0.8):
    left, bottom = pos
    ax = fig.add_axes([0.2, 0.2, 0.5, 0.5], projection='3d')
    ax.set_proj_type('ortho')
    ax.computed_zorder = False
    ax.set_box_aspect((N_N, N_M, 19.8))
    ax.view_init(elev=30, azim=-127.5)
    ax.set_xlim(0, N_N)
    ax.set_ylim(N_M, 0)
    ax.set_zlim(0, zmax)

    # fit the square axes so the floor corners land on the reference pixels
    ax.apply_aspect()
    p0 = corner_px(ax, 0, 0)
    p1 = corner_px(ax, 0, N_M)
    side = ax.get_position().width * W
    scale = (bottom[0] - left[0]) / (p1[0] - p0[0])
    side2 = side * scale
    bb = ax.get_position()
    cx, cy = (bb.x0 + bb.x1) / 2 * W, H - (bb.y0 + bb.y1) / 2 * H
    ox, oy = cx + (p0[0] - cx) * scale, cy + (p0[1] - cy) * scale
    cx += left[0] - ox
    cy += left[1] - oy
    ax.set_position([(cx - side2 / 2) / W, 1 - (cy + side2 / 2) / H, side2 / W, side2 / H])

    ax.set_facecolor('none')
    for a in (ax.xaxis, ax.yaxis, ax.zaxis):
        a.pane.set_facecolor('white')
        a.pane.set_edgecolor('#e4e4e4')
        a.line.set_color('#a0a0a0')
        a.line.set_linewidth(0.6)
        a._axinfo['grid'].update(color='#e6e6e6', linewidth=0.6)
        a._axinfo['tick'].update(inward_factor=0.0, outward_factor=0.15)
    ax.set_xticks([10, 20, 30])
    ax.set_yticks([0, 10, 20, 30])
    ax.set_zticks(z_ticks[zkey][0], z_ticks[zkey][1])
    ax.tick_params(labelsize=7, colors='#404040', pad=-3)
    ax.tick_params(axis='z', pad=-2)
    for t in ax.get_xticklabels() + ax.get_yticklabels() + ax.get_zticklabels():
        t.set_fontfamily('Liberation Sans')

    # back to front so the bars overlap like in the picture
    gap = (1 - width) / 2
    order = 0
    for n in range(N_N - 1, -1, -1):
        col = parula(n / (N_N - 1))
        for m in range(N_M):
            ax.bar3d(n + gap, m + gap, 0, width, width, heights[m, n], color=col, shade=False,
                     edgecolor=(0, 0, 0, edge), linewidth=0.25, zorder=10 + order)
            order += 1
    ax.set_xlim(0, N_N)
    ax.set_ylim(N_M, 0)
    ax.set_zlim(0, zmax)

    for txt, x, y, rot in labels:
        fig.text(px_x(x), px_y(y), txt, fontsize=7, color='#404040', family='Liberation Sans',
                 rotation=rot, ha='center', va='center')
    return ax


def scatter_panel(box, pts, legend_name, leg_box, leg_size, ilabel_x, qlabel_y):
    x0, x1, y0, y1 = box
    ax = fig.add_axes([px_x(x0), px_y(y1), (x1 - x0) / W, (y1 - y0) / H])
    pts = np.array(pts)
    ax.plot(pts[:, 0], pts[:, 1], 'o', mfc='none', mec='#0072BD', ms=4.3, mew=1.25,
            label=legend_name, clip_on=False, zorder=3)
    ax.plot(ref_q, ref_i, 'x', color='k', ms=4, mew=1.5, label='Reference Constellation', zorder=4)
    ax.set_xlim(-2, 2)
    ax.set_ylim(-2, 2)
    ax.set_xticks([-2, -1, 0, 1, 2])
    ax.set_yticks([-2, -1, 0, 1, 2])
    ax.grid(True, color='#dcdcdc', linewidth=1.4)
    ax.set_axisbelow(True)
    ax.spines['top'].set_visible(False)
    ax.spines['right'].set_visible(False)
    ax.spines['left'].set_linewidth(1.2)
    ax.spines['bottom'].set_linewidth(1.2)
    ax.tick_params(length=2, width=1, direction='in', labelsize=8, pad=3)
    for t in ax.get_xticklabels() + ax.get_yticklabels():
        t.set_fontfamily('Liberation Sans')
        t.set_fontweight('bold')
        t.set_color('#262626')
    leg = ax.legend(loc='upper left', bbox_to_anchor=(px_x(leg_box[0]), px_y(leg_box[1])),
                    bbox_transform=fig.transFigure, fancybox=False, framealpha=1, edgecolor='#303030',
                    borderaxespad=0, borderpad=0.3, labelspacing=0.2, handletextpad=0.5, handlelength=1.6,
                    prop={'family': 'Liberation Sans', 'weight': 'bold', 'size': leg_size})
    leg.get_frame().set_linewidth(1.4)
    leg.legend_handles[0].set_markersize(4.0)
    leg.legend_handles[1].set_markersize(3)
    fig.text(px_x(ilabel_x), px_y((y0 + y1) / 2), 'I', rotation=90, fontsize=9, fontweight='bold',
             family='Liberation Sans', ha='center', va='center', color='#262626')
    fig.text(px_x((x0 + x1) / 2), px_y(qlabel_y), 'Q', fontsize=8, fontweight='bold',
             family='Liberation Sans', ha='center', va='center', color='#262626')


def table(rows):
    # tenths of amplitude to amplitude
    arr = np.zeros((N_M, N_N))
    for m, row in enumerate(rows):
        arr[m, :len(row[:N_N])] = row[:N_N]
    return arr / 10


fig = plt.figure(figsize=(W / 100, H / 100), dpi=100, facecolor='white')

bars3d(((208, 130), (295, 188)), np.full((N_M, N_N), pilot_level), 0.03, 'a',
       [('Amplitude', 177, 92, 90), ('Delay Taps (M)', 220, 192, 0), ('Doppler Taps (N)', 388, 196, 0)], edge=0.6)

bars3d(((34, 413), (143, 485)), table(rx_140), 3, 'b',
       [('Amplitude', 12, 366, 90), ('Delay Taps (M)', 57, 491, 0), ('Doppler Taps (N)', 247, 493, 0)])

bars3d(((351, 417), (458, 487)), table(rx_240), 2, 'c',
       [('Amplitude', 322, 371, 90), ('Delay Taps (M)', 374, 491, 0), ('Doppler Taps (N)', 559, 493, 0)])

pred_140 = np.full((N_M, N_N), floor_140)
pred_140[np.array(spike_m_140) - 1, spike_n_140 - 1] = spike_a_140
bars3d(((45, 694), (150, 762)), pred_140, 0.1, 'd',
       [('Amplitude', 12, 648, 90), ('Delay Taps (M)', 68, 767, 0), ('Doppler Taps (N)', 249, 769, 0)],
       edge=0.3, width=0.62)

pred_240 = np.full((N_M, N_N), floor_240)
pred_240[np.array(spike_m_240) - 1, spike_n_240 - 1] = spike_a_240
bars3d(((355, 694), (459, 762)), pred_240, 0.15, 'e',
       [('Amplitude', 322, 648, 90), ('Delay Taps (M)', 377, 767, 0), ('Doppler Taps (N)', 559, 769, 0)],
       edge=0.3, width=0.62)

scatter_panel((42, 295, 857, 1050), symbols_140, 'Received Symbols', (161, 846), 7.2, 18, 1077)
scatter_panel((346, 590, 867, 1052), symbols_240, 'Receievd Symbols', (476, 864), 6.9, 323, 1077)

for words, xs, y in captions:
    for word, x in zip(words, xs):
        fig.text(px_x(x), px_y(y), word, fontsize=17, family='Liberation Serif', color='#111111',
                 ha='left', va='baseline')

fig.savefig('out.png', dpi=100)
